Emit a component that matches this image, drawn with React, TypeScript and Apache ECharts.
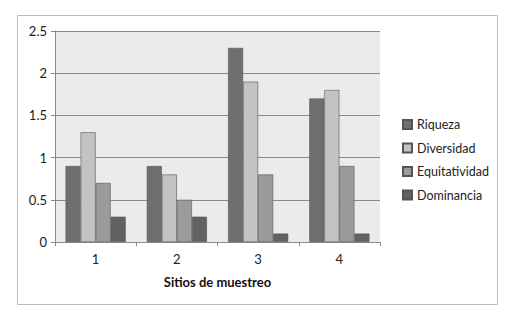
import React, { useEffect, useRef } from "react";
import * as echarts from "echarts";

const categories = ["1", "2", "3", "4"];
const seriesNames = ["Riqueza", "Diversidad", "Equitatividad", "Dominancia"];
const riqueza = [0.9, 0.9, 2.3, 1.7];
const diversidad = [1.3, 0.8, 1.9, 1.8];
const equitatividad = [0.7, 0.5, 0.8, 0.9];
const dominancia = [0.3, 0.3, 0.1, 0.1];
const colors = ["#6f6f6f", "#c3c3c3", "#9b9b9b", "#626262"];

export default function App() {
  const ref = useRef<HTMLDivElement>(null);
  useEffect(() => {
    if (!ref.current) return;
    const chart = echarts.init(ref.current, null, { renderer: "svg" });
    const values = [riqueza, diversidad, equitatividad, dominancia];
    const font = "Lato, 'Open Sans', sans-serif";
    chart.setOption({
      animation: false,
      textStyle: { fontFamily: font },
      graphic: [
        {
          type: "rect",
          shape: { x: 17.5, y: 15.5, width: 480, height: 289 },
          style: { fill: "none", stroke: "#bdbdbd", lineWidth: 1 },
          silent: true,
        },
      ],
      grid: {
        left: 55,
        top: 31,
        width: 325,
        height: 211,
        show: true,
        backgroundColor: "#ebebeb",
        borderWidth: 0,
      },
      legend: {
        orient: "vertical",
        left: 397,
        top: 113,
        itemWidth: 9,
        itemHeight: 9,
        itemGap: 10.5,
        icon: "rect",
        textStyle: { fontSize: 12.5, color: "#222", fontFamily: font },
        data: seriesNames,
      },
      xAxis: {
        type: "category",
        data: categories,
        name: "Sitios de muestreo",
        nameLocation: "middle",
        nameGap: 33,
        nameTextStyle: { fontWeight: "bold", fontSize: 13, color: "#111", fontFamily: font },
        axisLine: { lineStyle: { color: "#8a8a8a" } },
        axisTick: { show: true, length: 4, lineStyle: { color: "#8a8a8a" } },
        axisLabel: { fontSize: 13, color: "#222", margin: 10 },
      },
      yAxis: {
        type: "value",
        min: 0,
        max: 2.5,
        interval: 0.5,
        axisLine: { show: true, lineStyle: { color: "#8a8a8a" } },
        axisTick: { show: true, length: 4, lineStyle: { color: "#8a8a8a" } },
        axisLabel: { fontSize: 13, color: "#222", margin: 8 },
        splitLine: { lineStyle: { color: "#8a8a8a" } },
      },
      series: seriesNames.map((n, i) => ({
        name: n,
        type: "bar",
        data: values[i],
        barGap: "0%",
        barCategoryGap: "26%",
        itemStyle: { color: colors[i], borderColor: "#555", borderWidth: 0.6 },
      })),
    });
    return () => chart.dispose();
  }, []);
  return (
    <div
      ref={ref}
      style={{ position: "fixed", left: 0, top: 0, width: 512, height: 324, background: "#fff" }}
    />
  );
}
